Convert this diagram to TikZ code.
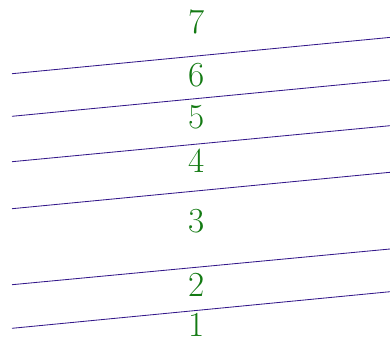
\documentclass[tikz,border=0pt]{standalone}
\usepackage{xcolor}
\usepackage{tikz}
\usetikzlibrary{calc}
\definecolor{Ink}{HTML}{34188A}
\definecolor{Leaf}{HTML}{137A13}

\begin{document}
\begin{tikzpicture}[x=0.025cm,y=-0.025cm,
    cut/.style={line width=0.6pt,color=Ink},
    num/.style={text=Leaf,font=\fontsize{25}{28}\selectfont,inner sep=0pt}]
      \useasboundingbox (0,0) rectangle (390,338);
      \foreach \l/\r in {73.7/37.4,116.3/80,161.7/125.7,208.7/172.3,284.7/249,328.3/291.7}
        \draw[cut] (12,\l) -- (390,\r);
      \node[num] (n7) at (197,21.5) {7};
      \node[num] (n6) at (197,75.5) {6};
      \node[num] (n5) at (197,117) {5};
      \node[num] (n4) at (197,161) {4};
      \node[num] (n3) at (197,221.5) {3};
      \node[num] (n2) at (197,285) {2};
      \node[num] (n1) at (197,324.5) {1};
    \end{tikzpicture}
\end{document}
